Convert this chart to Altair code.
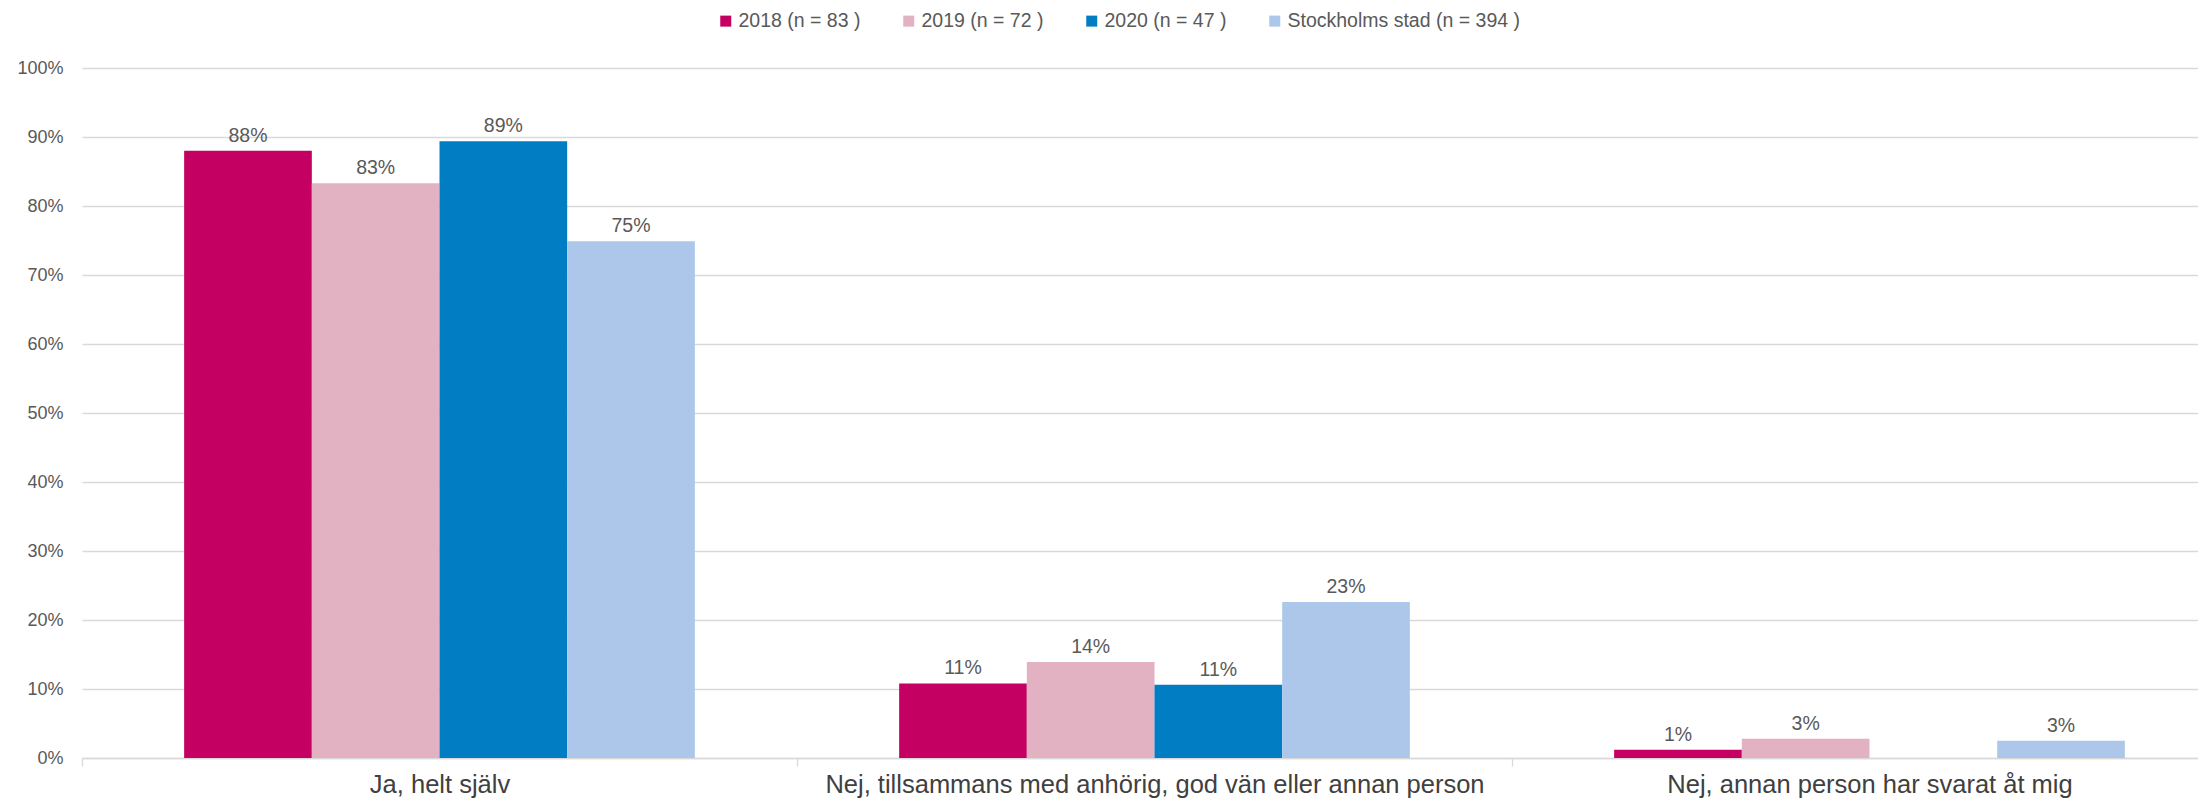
import altair as alt
import pandas as pd

categories = [
    "Ja, helt själv",
    "Nej, tillsammans med anhörig, god vän eller annan person",
    "Nej, annan person har svarat åt mig",
]
series = ["2018 (n = 83 )", "2019 (n = 72 )", "2020 (n = 47 )", "Stockholms stad (n = 394 )"]
colors = ["#C40062", "#E3B2C2", "#007DC3", "#ADC7EA"]

values_2018 = [88.0, 10.8, 1.2]
values_2019 = [83.3, 13.9, 2.8]
values_2020 = [89.4, 10.6, 0.0]
values_sthlm = [74.9, 22.6, 2.5]

y_ticks = [0, 10, 20, 30, 40, 50, 60, 70, 80, 90, 100]

rows = []
for s, vals in zip(series, [values_2018, values_2019, values_2020, values_sthlm]):
    for c, v in zip(categories, vals):
        rows.append({"category": c, "series": s, "value": v})
df = pd.DataFrame(rows)

FONT = "Liberation Sans"

x_enc = alt.X(
    "category:N",
    sort=categories,
    scale=alt.Scale(range=[0, 2145], paddingInner=0, paddingOuter=0),
    axis=alt.Axis(
        title=None,
        labelAngle=0,
        labelFontSize=25.5,
        labelFont=FONT,
        labelColor="#404040",
        labelLimit=1200,
        labelBaseline="alphabetic",
        labelPadding=26,
        tickBand="extent",
        ticks=True,
        tickSize=8,
        tickColor="#D9D9D9",
        tickWidth=1.3,
        domainColor="#D9D9D9",
        domainWidth=1.3,
        grid=False,
    ),
)
xoff_enc = alt.XOffset(
    "series:N", sort=series, scale=alt.Scale(paddingOuter=0.8, paddingInner=0)
)
y_enc = alt.Y(
    "value:Q",
    scale=alt.Scale(domain=[0, 100], nice=False),
    axis=alt.Axis(
        title=None,
        values=y_ticks,
        labelExpr="datum.value + '%'",
        labelFontSize=18,
        labelFont=FONT,
        labelColor="#595959",
        labelPadding=19,
        ticks=False,
        domain=False,
        grid=True,
        gridColor="#D9D9D9",
        gridWidth=1.3,
    ),
)

bars = alt.Chart(df).mark_bar().encode(
    x=x_enc,
    xOffset=xoff_enc,
    y=y_enc,
    color=alt.Color(
        "series:N",
        sort=series,
        scale=alt.Scale(domain=series, range=colors),
        legend=alt.Legend(
            title=None,
            orient="none",
            legendX=634,
            legendY=-57,
            direction="horizontal",
            symbolType="square",
            symbolSize=121,
            symbolStrokeWidth=0,
            labelFont=FONT,
            labelFontSize=19.5,
            labelColor="#595959",
            labelOffset=3,
            columnPadding=38,
            labelLimit=400,
        ),
    ),
)

labels = (
    alt.Chart(df)
    .transform_filter("datum.value > 0")
    .transform_calculate(label="round(datum.value) + '%'")
    .mark_text(
        font=FONT, fontSize=19.5, color="#595959", baseline="alphabetic", dy=-9
    )
    .encode(
        x=alt.X("category:N", sort=categories),
        xOffset=alt.XOffset("series:N", sort=series),
        y="value:Q",
        text="label:N",
    )
)

chart = (
    alt.layer(bars, labels)
    .properties(
        width=2116,
        height=690,
        autosize=alt.AutoSizeParams(type="none"),
        padding={"left": 74, "top": 60, "right": 0, "bottom": 44},
    )
    .configure_view(stroke=None)
)

chart.save("out.html", embed_options={"renderer": "svg", "actions": False})
